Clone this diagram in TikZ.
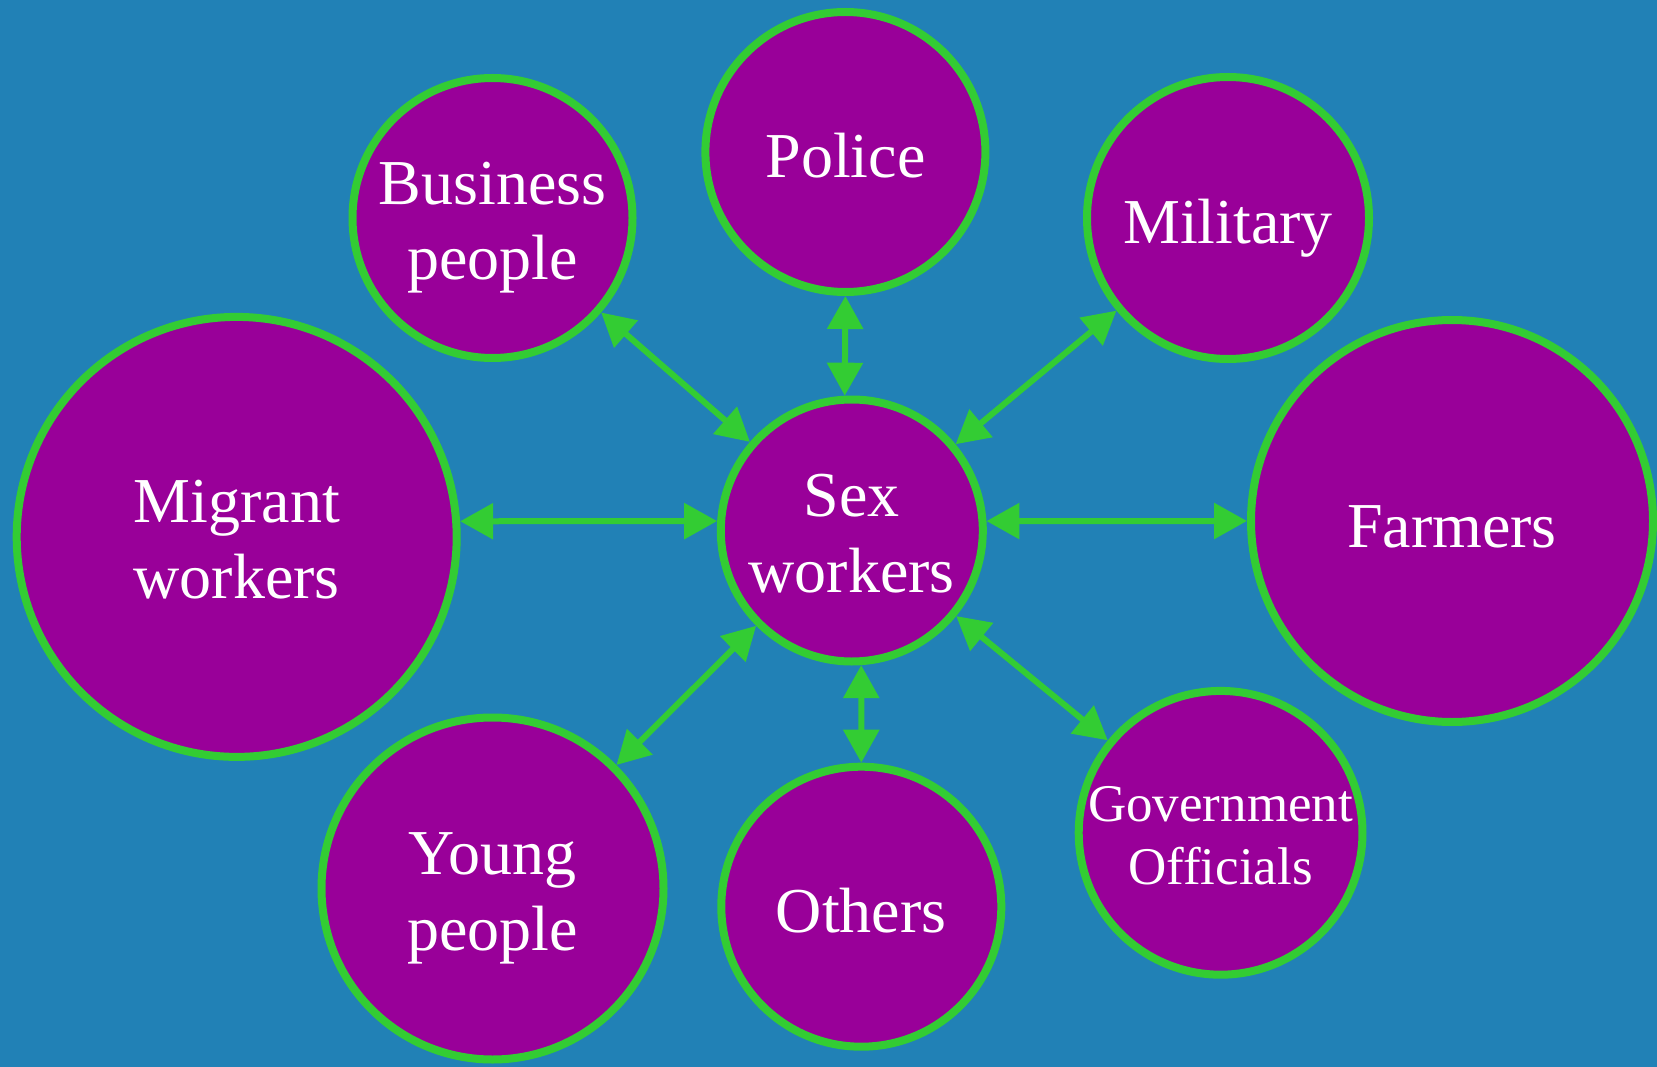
\documentclass[tikz,border=0pt]{standalone}
\usepackage{fontspec}
\setmainfont{Liberation Serif}
\usepackage{xcolor}
\usepackage{tikz}
\usetikzlibrary{shapes,arrows.meta,positioning}
\definecolor{bgblue}{HTML}{2181B6}
\definecolor{actorpurple}{HTML}{990099}
\definecolor{linkgreen}{HTML}{33CC33}
\tikzstyle{actor} = [circle, draw=linkgreen, fill=actorpurple, line width=8pt,
text=white, align=center, inner sep=0pt, font=\fontsize{64}{76}\selectfont]
\tikzstyle{oneliner} = [text height=52pt, text depth=0pt]
\tikzstyle{twoliner} = [text height=124pt, text depth=0pt]
\tikzstyle{line} = [draw=linkgreen, line width=6pt,
{Triangle[length=33pt,width=35pt]}-{Triangle[length=33pt,width=35pt]}]

\begin{document}
\begin{tikzpicture}[x=1pt, y=-1pt]
\fill [bgblue] (0,0) rectangle (1657,1067);
\useasboundingbox (0,0) rectangle (1657,1067);
    % nodes
\node [actor, twoliner, minimum size=262pt] (sex) at (851.8,530.5) {Sex\\workers};
\node [actor, oneliner, minimum size=280pt] (police) at (845.4,152) {Police};
\node [actor, twoliner, minimum size=280pt] (bp) at (492.5,218) {Business\\people};
\node [actor, oneliner, minimum size=282pt] (mil) at (1228,218) {Military};
\node [actor, twoliner, minimum size=440pt] (mw) at (236.7,536.9) {Migrant\\workers};
\node [actor, oneliner, minimum size=402pt] (farm) at (1452,521) {Farmers};
\node [actor, twoliner, minimum size=342pt] (yp) at (492.5,888.5) {Young\\people};
\node [actor, oneliner, minimum size=280pt] (oth) at (861.3,906.7) {Others};
\node [actor, minimum size=262pt, font=\fontsize{53}{63}\selectfont,
       text height=104pt, text depth=0pt] (gov) at (1220.6,832.8) {Government\\Officials};

%edges
\path [line] (police.-90) -- (sex.93);
\path [line] (bp) -- (sex);
\path [line] (mil) -- (sex);
\path [line] (mw.4) -- (sex.176);
\path [line] (sex.4) -- (farm.180);
\path [line] (yp) -- (sex);
\path [line] (sex.-86) -- (oth.90);
\path [line] (sex) -- (gov);

\end{tikzpicture}
\end{document}
